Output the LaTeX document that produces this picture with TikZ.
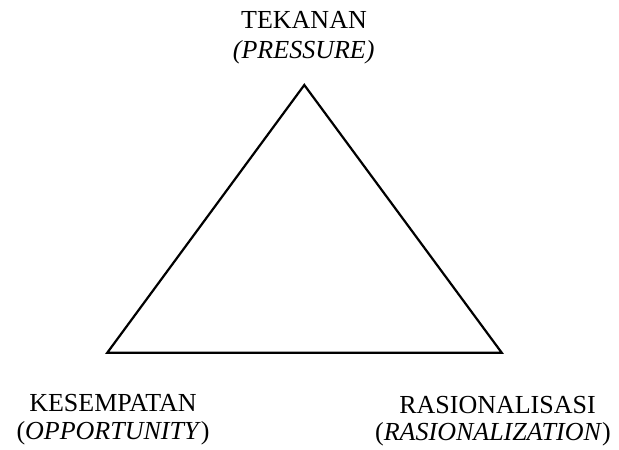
\documentclass[tikz,border=0pt]{standalone}
\usepackage{fontspec}
\setmainfont{Liberation Serif}
\begin{document}
\begin{tikzpicture}[x=1pt,y=1pt,
  lbl/.style={anchor=base,inner sep=0pt,font=\fontsize{26}{30}\selectfont},
  side/.style={line width=2.2pt,line join=miter}]
\useasboundingbox (0,0) rectangle (619,450);
% corners of the fraud triangle
\coordinate (p) at (304.3,365);
\coordinate (o) at (107.3,97.3);
\coordinate (r) at (501.7,97.3);
\draw[side] (p) -- (o) -- (r) -- cycle;
% labels
\node[lbl] (t1) at (304,421.7) {TEKANAN};
\node[lbl] (t2) at (303.7,391) {\textit{(PRESSURE)}};
\node[lbl] (k1) at (113,38.3) {KESEMPATAN};
\node[lbl] (k2) at (113,10.7) {(\textit{OPPORTUNITY})};
\node[lbl] (r1) at (497.5,36.7) {RASIONALISASI};
\node[lbl] (r2) at (493,9.5) {(\textit{RASIONALIZATION})};
\end{tikzpicture}
\end{document}
